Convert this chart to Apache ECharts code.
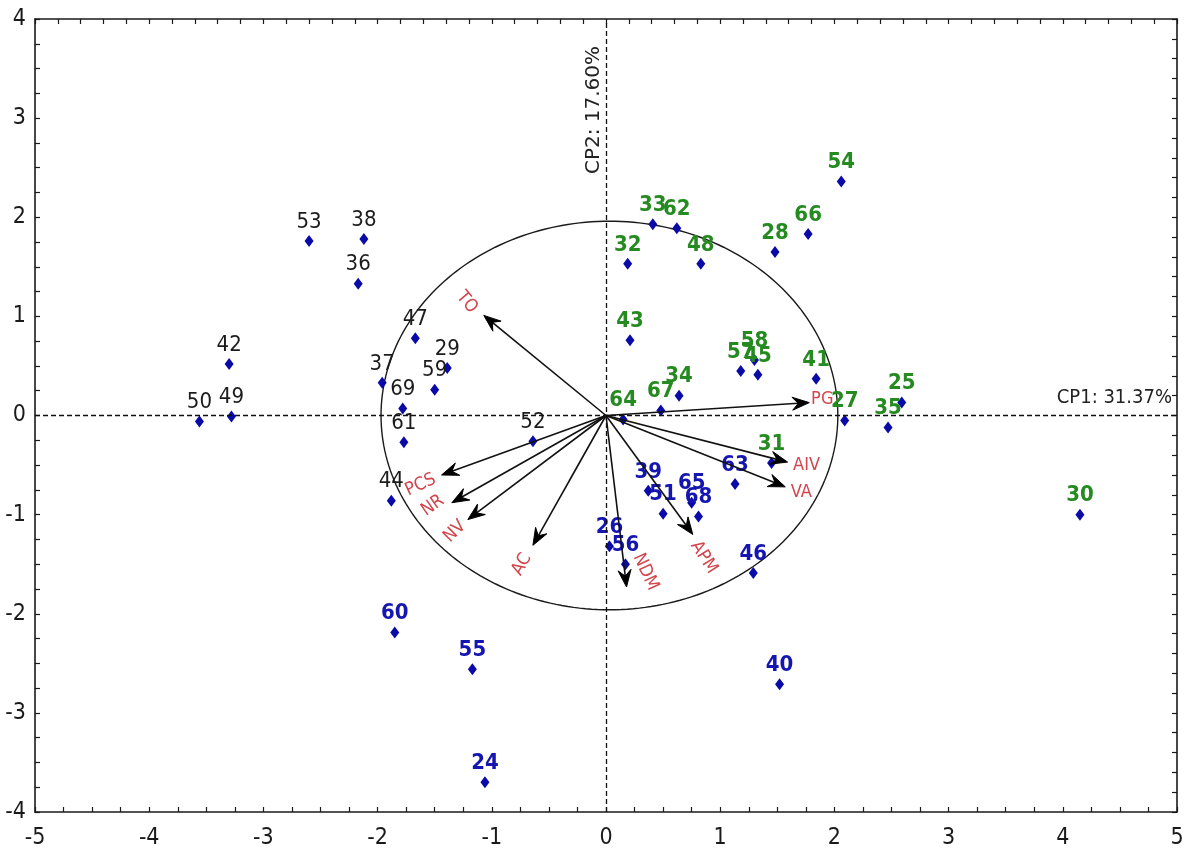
<!DOCTYPE html>
<html>
<head>
<meta charset="utf-8">
<title>CP1 / CP2 biplot</title>
<script src="https://cdn.jsdelivr.net/npm/echarts@6/dist/echarts.min.js"></script>
<style>
  html, body { margin: 0; padding: 0; background: #ffffff; }
  #chart { width: 1187px; height: 856px; }
</style>
</head>
<body>
<div id="chart"></div>
<script>
// ---- Scores of the individuals on CP1 / CP2, by group ----
// each entry: [CP1, CP2, id]
const groupGray = [
  [-2.60, 1.76, '53'], [-2.12, 1.78, '38'], [-2.17, 1.33, '36'], [-3.30, 0.52, '42'],
  [-3.56, -0.06, '50'], [-3.28, -0.01, '49'], [-1.67, 0.78, '47'], [-1.96, 0.33, '37'],
  [-1.39, 0.48, '29'], [-1.50, 0.26, '59'], [-1.78, 0.07, '69'], [-1.77, -0.27, '61'],
  [-1.88, -0.86, '44'], [-0.64, -0.26, '52']
];
const groupGreen = [
  [2.06, 2.36, '54'], [0.41, 1.93, '33'], [0.62, 1.89, '62'], [0.19, 1.53, '32'],
  [0.83, 1.53, '48'], [1.48, 1.65, '28'], [1.77, 1.83, '66'], [0.21, 0.76, '43'],
  [1.18, 0.45, '57'], [1.30, 0.56, '58'], [1.33, 0.41, '45'], [1.84, 0.37, '41'],
  [2.59, 0.13, '25'], [2.09, -0.05, '27'], [2.47, -0.12, '35'], [0.15, -0.04, '64'],
  [0.48, 0.05, '67'], [0.64, 0.20, '34'], [1.45, -0.48, '31'], [4.15, -1.00, '30']
];
const groupBlue = [
  [0.37, -0.76, '39'], [0.50, -0.99, '51'], [0.75, -0.88, '65'], [0.81, -1.02, '68'],
  [1.13, -0.69, '63'], [0.03, -1.32, '26'], [0.17, -1.50, '56'], [1.29, -1.59, '46'],
  [-1.85, -2.19, '60'], [-1.17, -2.56, '55'], [1.52, -2.71, '40'], [-1.06, -3.70, '24']
];

// ---- Variable loadings (arrow tips, scaled to the circle) ----
const varNames = ['TO', 'PG', 'AIV', 'VA', 'APM', 'NDM', 'AC', 'NV', 'NR', 'PCS'];
const varCP1   = [-1.07, 1.78, 1.59, 1.57, 0.76, 0.18, -0.64, -1.21, -1.35, -1.44];
const varCP2   = [ 1.01, 0.13, -0.47, -0.72, -1.20, -1.73, -1.31, -1.05, -0.88, -0.60];

// correlation circle: centre CP1, centre CP2, radius along CP1, radius along CP2
const circle = [0.03, 0.0, 2.0, 1.96];

// axis ranges and inertia captions
const xRange = [-5, 5];
const yRange = [-4, 4];
const cp1Caption = 'CP1: 31.37%';
const cp2Caption = 'CP2: 17.60%';

// ---- presentation ----
const NARROW = "'Liberation Sans Narrow', 'Arial Narrow', 'DejaVu Sans Condensed', 'Liberation Sans', sans-serif";
const INK = '#1a1a1a';
const POINT = '#0a0aa8';

// where each variable name sits relative to its arrow tip (px) and its tilt (deg)
const varLabelLayout = {
  TO:  { dx: -17, dy: -13, rot: -50 },
  PG:  { dx: 13,  dy: -3,  rot: 0 },
  AIV: { dx: 19,  dy: 3,   rot: 0 },
  VA:  { dx: 16,  dy: 5,   rot: 0 },
  APM: { dx: 11,  dy: 23,  rot: -58 },
  NDM: { dx: 19,  dy: -15, rot: -65 },
  AC:  { dx: -11, dy: 19,  rot: 60 },
  NV:  { dx: -13, dy: 12,  rot: 45 },
  NR:  { dx: -19, dy: 3,   rot: 35 },
  PCS: { dx: -21, dy: 10,  rot: 25 }
};

function toItems(group) {
  return group.map(p => ({ value: [p[0], p[1]], name: p[2] }));
}

function scoreSeries(group, labelColor, weight) {
  return {
    type: 'scatter',
    data: toItems(group),
    symbol: 'diamond',
    symbolSize: [9, 12],
    itemStyle: { color: POINT, opacity: 1 },
    z: 3,
    label: {
      show: true,
      position: 'top',
      distance: 2,
      formatter: '{b}',
      color: labelColor,
      opacity: 1,
      fontFamily: NARROW,
      fontSize: 22,
      fontWeight: weight
    },
    emphasis: { disabled: true },
    labelLayout: { hideOverlap: false }
  };
}

function renderCircle(params, api) {
  const cx = api.value(0), cy = api.value(1), rx = api.value(2), ry = api.value(3);
  const pts = [];
  const steps = 240;
  for (let i = 0; i < steps; i++) {
    const a = (i / steps) * Math.PI * 2;
    pts.push(api.coord([cx + rx * Math.cos(a), cy + ry * Math.sin(a)]));
  }
  return {
    type: 'polygon',
    shape: { points: pts },
    style: { fill: 'none', stroke: INK, lineWidth: 1.4 },
    silent: true
  };
}

function renderVector(params, api) {
  const name = varNames[params.dataIndex];
  const lay = varLabelLayout[name];
  const o = api.coord([0, 0]);
  const t = api.coord([api.value(0), api.value(1)]);
  const ang = Math.atan2(t[1] - o[1], t[0] - o[0]);
  const ux = Math.cos(ang), uy = Math.sin(ang);
  const px = -uy, py = ux;
  const len = 17, hw = 6.5, notch = 11;
  const back = [t[0] - ux * len, t[1] - uy * len];
  const nb = [t[0] - ux * notch, t[1] - uy * notch];
  return {
    type: 'group',
    children: [
      {
        type: 'line',
        shape: { x1: o[0], y1: o[1], x2: nb[0], y2: nb[1] },
        style: { stroke: '#111', lineWidth: 1.6 }
      },
      {
        type: 'polygon',
        shape: { points: [t, [back[0] + px * hw, back[1] + py * hw], nb, [back[0] - px * hw, back[1] - py * hw]] },
        style: { fill: '#000', stroke: '#000', lineWidth: 1 }
      },
      {
        type: 'text',
        x: t[0] + lay.dx,
        y: t[1] + lay.dy,
        rotation: lay.rot * Math.PI / 180,
        style: {
          text: name,
          fill: '#d2454c',
          fontFamily: NARROW,
          fontSize: 18,
          align: 'center',
          verticalAlign: 'middle'
        }
      }
    ]
  };
}

const frameLine = { show: true, onZero: false, lineStyle: { color: INK, width: 1.6 } };
const innerTick = { show: true, inside: true, length: 5, lineStyle: { color: INK, width: 1.2 } };

const option = {
  backgroundColor: '#ffffff',
  animation: false,
  grid: { left: 35, right: 10, top: 19, bottom: 44, containLabel: false, outerBoundsMode: 'none' },
  xAxis: [
    {
      type: 'value', position: 'bottom', min: xRange[0], max: xRange[1], interval: 1,
      axisLine: frameLine, axisTick: innerTick,
      minorTick: { show: true, splitNumber: 4, length: 5, lineStyle: { color: INK, width: 1.2 } },
      splitLine: { show: false }, minorSplitLine: { show: false },
      axisLabel: { margin: 15, color: INK, fontFamily: NARROW, fontSize: 23 }
    },
    {
      type: 'value', position: 'top', min: xRange[0], max: xRange[1], interval: 1,
      axisLine: frameLine, axisTick: innerTick,
      minorTick: { show: true, splitNumber: 5, length: 5, lineStyle: { color: INK, width: 1.2 } },
      splitLine: { show: false }, axisLabel: { show: false }
    }
  ],
  yAxis: [
    {
      type: 'value', position: 'left', min: yRange[0], max: yRange[1], interval: 1,
      axisLine: frameLine, axisTick: innerTick,
      minorTick: { show: true, splitNumber: 4, length: 5, lineStyle: { color: INK, width: 1.2 } },
      splitLine: { show: false }, minorSplitLine: { show: false },
      axisLabel: { margin: 9, color: INK, fontFamily: NARROW, fontSize: 23 }
    },
    {
      type: 'value', position: 'right', min: yRange[0], max: yRange[1], interval: 1,
      axisLine: frameLine, axisTick: innerTick,
      minorTick: { show: true, splitNumber: 5, length: 5, lineStyle: { color: INK, width: 1.2 } },
      splitLine: { show: false }, axisLabel: { show: false }
    }
  ],
  graphic: [
    {
      type: 'text', x: 1172, y: 398, z: 10,
      style: { text: cp1Caption, align: 'right', verticalAlign: 'middle', fill: '#222', fontFamily: NARROW, fontSize: 20 }
    },
    {
      type: 'text', x: 594, y: 110, rotation: Math.PI / 2, z: 10,
      style: { text: cp2Caption, align: 'center', verticalAlign: 'middle', fill: '#222', fontFamily: "'DejaVu Sans', sans-serif", fontSize: 20 }
    }
  ],
  series: [
    {
      type: 'custom',
      renderItem: renderCircle,
      data: [circle],
      encode: { x: 0, y: 1 },
      clip: false,
      silent: true,
      z: 1,
      markLine: {
        silent: true,
        symbol: ['none', 'none'],
        label: { show: false },
        lineStyle: { color: '#111', type: [5, 3], width: 1.3, opacity: 1 },
        data: [{ xAxis: 0 }, { yAxis: 0 }]
      }
    },
    scoreSeries(groupGray, '#1c1c1c', 'normal'),
    scoreSeries(groupGreen, '#258a1f', 'bold'),
    scoreSeries(groupBlue, '#1515b0', 'bold'),
    {
      type: 'custom',
      renderItem: renderVector,
      data: varNames.map((n, i) => ({ value: [varCP1[i], varCP2[i]], name: n })),
      encode: { x: 0, y: 1 },
      clip: false,
      silent: true,
      z: 5
    }
  ]
};

const chart = echarts.init(document.getElementById('chart'), null, { renderer: 'canvas' });
chart.setOption(option);
</script>
</body>
</html>
